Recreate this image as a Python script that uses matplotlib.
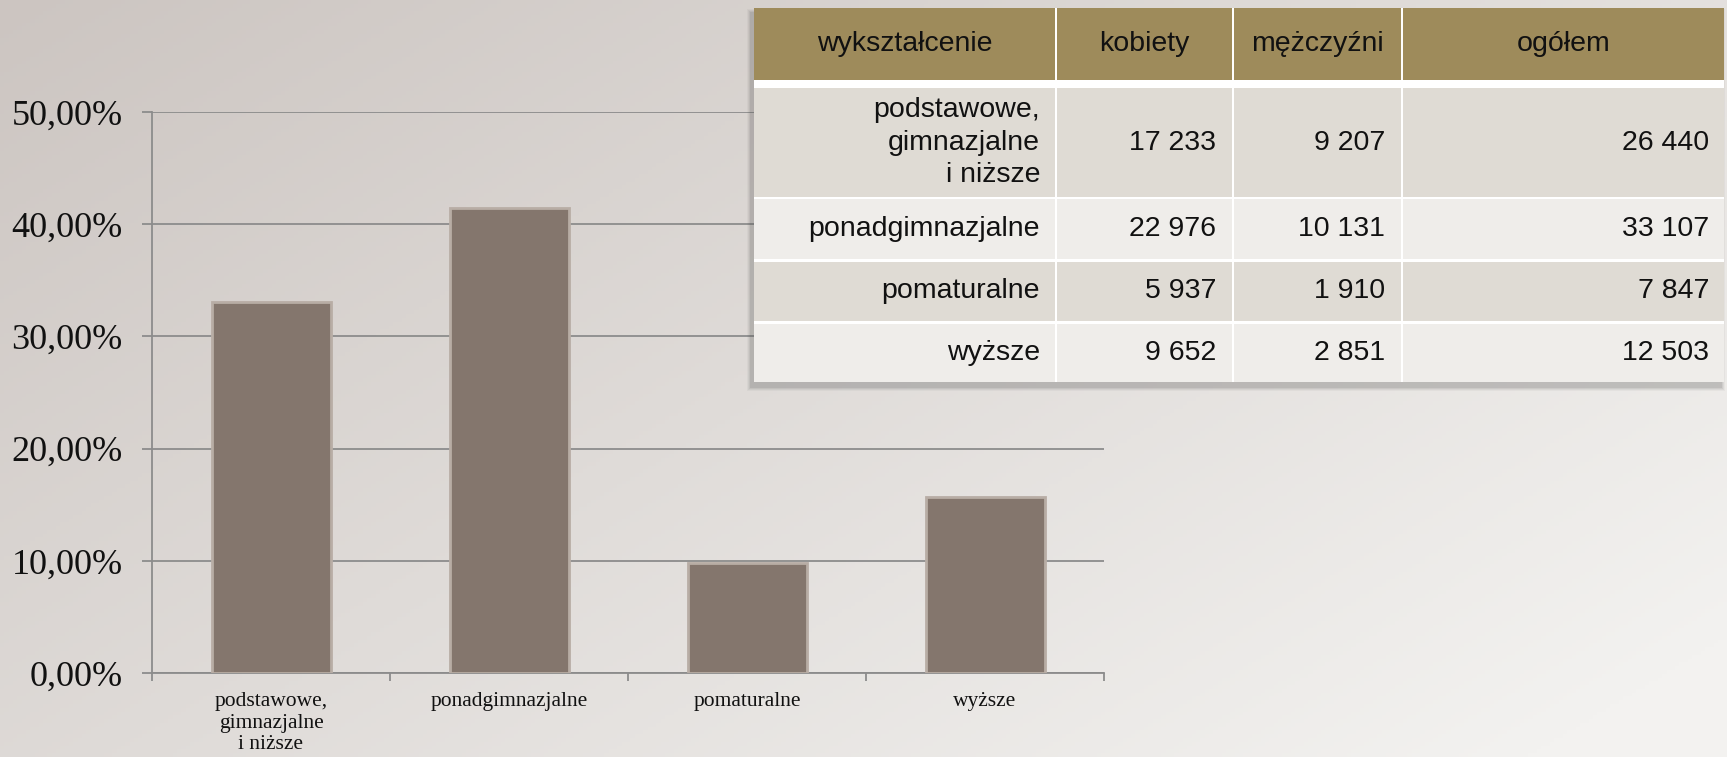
import numpy as np
import matplotlib
matplotlib.use('Agg')
import matplotlib.pyplot as plt
from matplotlib.patches import Rectangle
from matplotlib.ticker import FuncFormatter, FixedLocator

# ---- data ----
categories = ['podstawowe,\ngimnazjalne\ni niższe', 'ponadgimnazjalne', 'pomaturalne', 'wyższe']
shares = [33.09, 41.44, 9.82, 15.65]          # percent of total
y_ticks = [0, 10, 20, 30, 40, 50]

table_header = ['wykształcenie', 'kobiety', 'mężczyźni', 'ogółem']
table_rows = ['podstawowe,\ngimnazjalne\ni niższe', 'ponadgimnazjalne', 'pomaturalne', 'wyższe']
women = ['17 233', '22 976', '5 937', '9 652']
men = ['9 207', '10 131', '1 910', '2 851']
total = ['26 440', '33 107', '7 847', '12 503']

W, H, DPI = 1727, 757, 100
fig = plt.figure(figsize=(W / DPI, H / DPI), dpi=DPI)

# ---- background gradient ----
bg = fig.add_axes([0, 0, 1, 1], zorder=-10)
yy, xx = np.mgrid[0:1:200j, 0:1:400j]
t = np.clip(xx * 0.62 + yy * 0.45, 0, 1)
c0 = np.array([204, 197, 193]) / 255
c1 = np.array([243, 242, 240]) / 255
img = c0 + (c1 - c0) * t[..., None]
bg.imshow(img, aspect='auto', extent=[0, 1, 0, 1])
bg.axis('off')

# ---- bar chart ----
ax = fig.add_axes([152 / W, 84 / H, (1104 - 152) / W, (673 - 112) / H])
ax.set_facecolor('none')
x = np.arange(len(categories))
ax.bar(x, shares, width=0.5, color='#84766D', edgecolor='#B8ADA5', linewidth=2, zorder=3)
ax.set_xlim(-0.5, len(categories) - 0.5)
ax.set_ylim(0, 50)
ax.set_yticks(y_ticks)
ax.yaxis.set_major_formatter(FuncFormatter(lambda v, _: f"{v:.2f}".replace('.', ',') + '%'))
ax.grid(axis='y', color='#8C8C8C', linewidth=1.3, zorder=0)
ax.set_axisbelow(True)
for s in ['top', 'right']:
    ax.spines[s].set_visible(False)
for s in ['left', 'bottom']:
    ax.spines[s].set_color('#8C8C8C')
    ax.spines[s].set_linewidth(1.3)
ax.tick_params(axis='y', length=7, width=1.3, color='#8C8C8C', pad=14,
               labelsize=26, labelcolor='#111111')
for lab in ax.get_yticklabels():
    lab.set_fontfamily('Liberation Serif')
ax.set_xticks(x)
ax.set_xticklabels(categories, fontfamily='Liberation Serif', fontsize=15.5,
                   linespacing=1.15, color='#111111')
ax.tick_params(axis='x', which='major', length=0, pad=14)
ax.xaxis.set_minor_locator(FixedLocator(np.arange(-0.5, len(categories), 1.0)))
ax.tick_params(axis='x', which='minor', length=6, width=1.3, color='#8C8C8C')

# ---- table ----
tx0, ty0, tw, th = 754, 8, 970, 374
tax = fig.add_axes([tx0 / W, (H - ty0 - th) / H, tw / W, th / H], zorder=5)
tax.set_xlim(0, tw)
tax.set_ylim(th, 0)
tax.axis('off')

# shadow
for i, a in enumerate([0.05, 0.07, 0.09, 0.12]):
    d = 4 - i
    tax.add_patch(Rectangle((-3 - d, 5 - d), tw + 2 * d, th + 2 * d,
                            facecolor='#555555', alpha=a, edgecolor='none',
                            clip_on=False, zorder=0))
tax.add_patch(Rectangle((0, 0), tw, th, facecolor='white', edgecolor='none',
                        clip_on=False, zorder=1))

cols = [(0, 301), (303, 478), (480, 647), (649, 970)]
rows = [(0, 72), (80, 189), (191, 251), (254, 313), (316, 374)]
row_colors = ['#9E8B5B', '#DFDBD4', '#EFEDEA', '#DFDBD4', '#EFEDEA']
for r, (r0, r1) in enumerate(rows):
    for (c0_, c1_) in cols:
        tax.add_patch(Rectangle((c0_, r0), c1_ - c0_, r1 - r0,
                                facecolor=row_colors[r], edgecolor='none',
                                clip_on=False, zorder=2))

fkw = dict(fontfamily='Liberation Sans', fontsize=20.5, color='#111111', zorder=3)
hy = (rows[0][0] + rows[0][1]) / 2
for (c0_, c1_), h in zip(cols, table_header):
    tax.text((c0_ + c1_) / 2, hy, h, ha='center', va='center', **fkw)

for i, (name, wv, mv, tv) in enumerate(zip(table_rows, women, men, total)):
    r0, r1 = rows[i + 1]
    cy = (r0 + r1) / 2
    tax.text(cols[0][1] - 15, cy, name, ha='right', va='center',
             multialignment='right', linespacing=1.32, **fkw)
    tax.text(cols[1][1] - 16, cy, wv, ha='right', va='center', **fkw)
    tax.text(cols[2][1] - 16, cy, mv, ha='right', va='center', **fkw)
    tax.text(cols[3][1] - 15, cy, tv, ha='right', va='center', **fkw)

fig.savefig('out.png', dpi=DPI)
